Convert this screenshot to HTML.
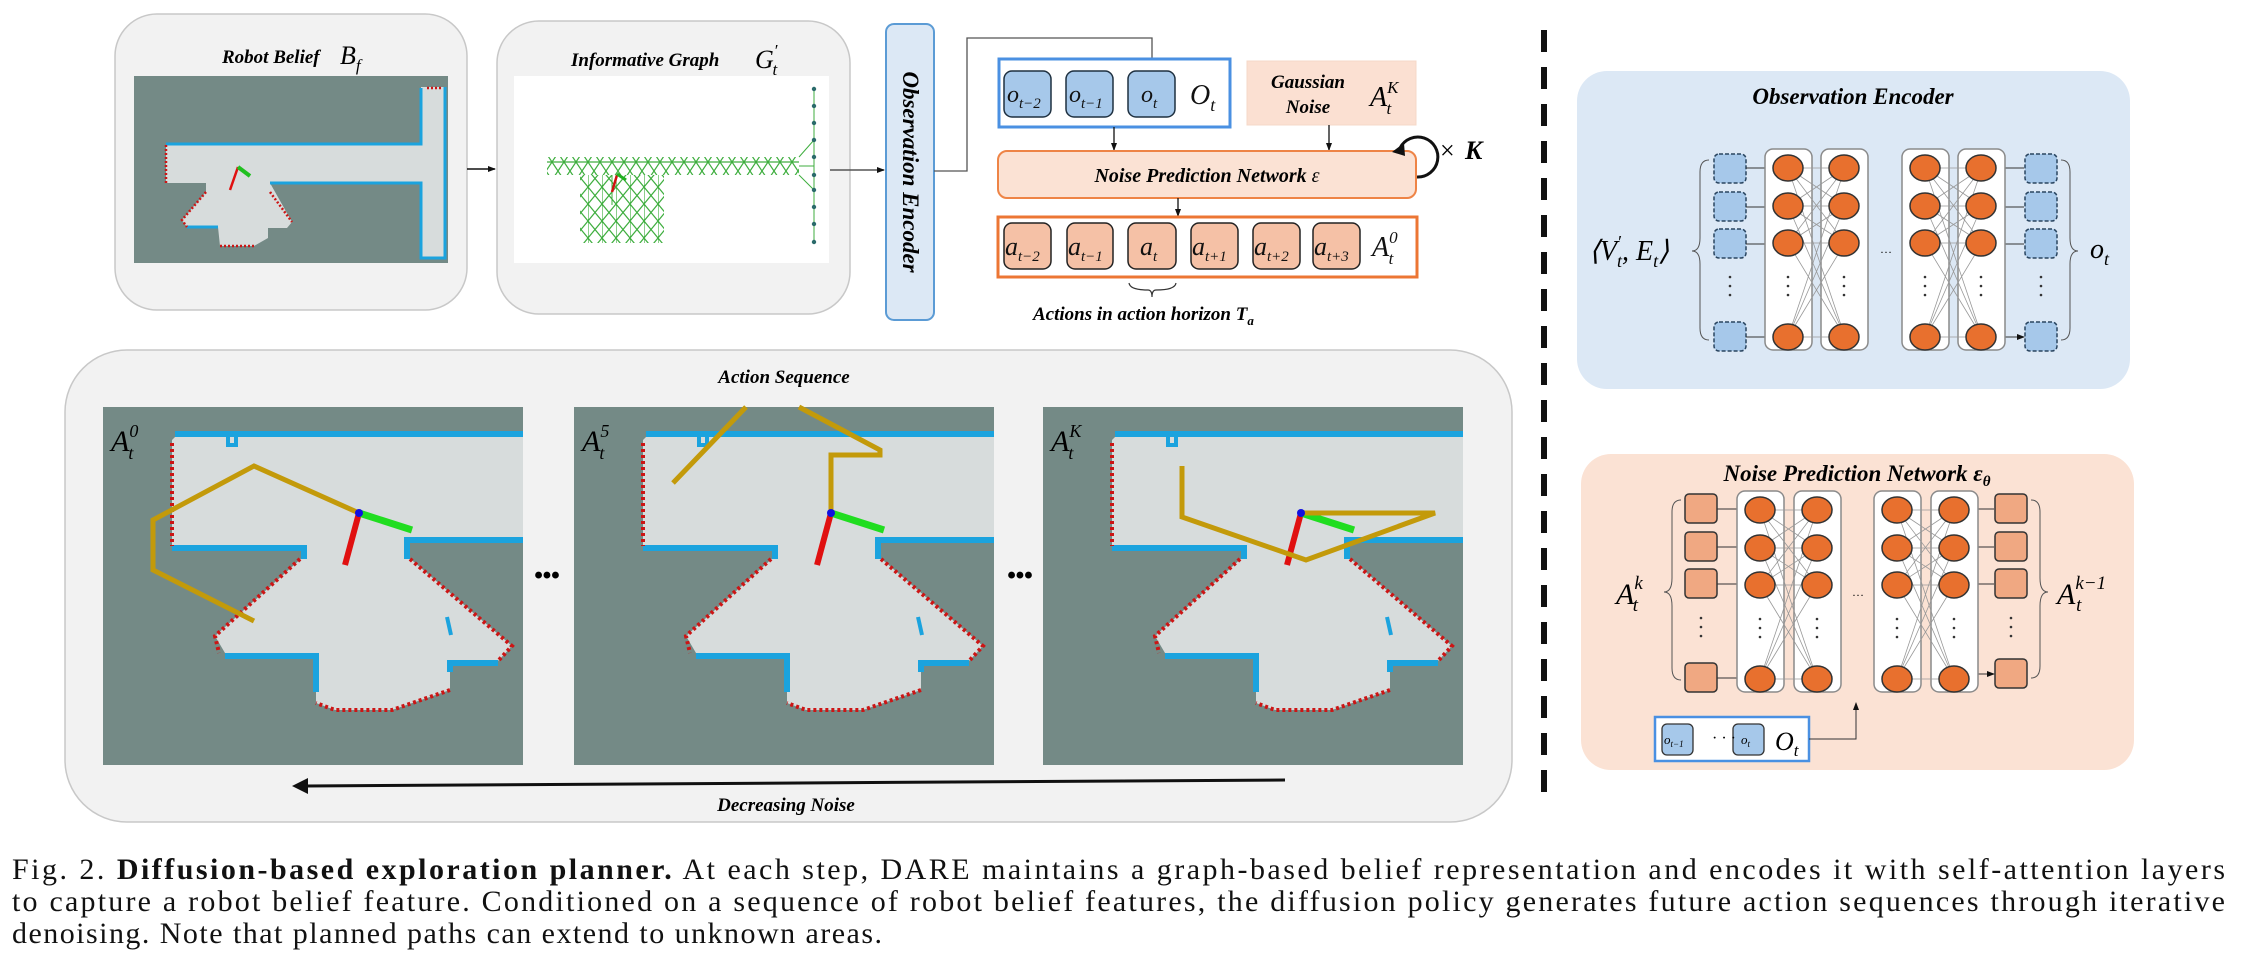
<!DOCTYPE html>
<html><head><meta charset="utf-8"><style>
html,body{margin:0;padding:0;background:#fff;}
svg{display:block;}
.t{font-family:"Liberation Serif",serif;font-style:italic;font-weight:bold;}
.m{font-family:"Liberation Serif",serif;font-style:italic;}
</style></head><body>
<svg width="2246" height="968" viewBox="0 0 2246 968" xmlns="http://www.w3.org/2000/svg">
<defs>
<marker id="ar" markerWidth="8" markerHeight="8" refX="7" refY="4" orient="auto" markerUnits="userSpaceOnUse"><path d="M0,1 L8,4 L0,7 z" fill="#111"/></marker>
<pattern id="xp" width="12" height="18" patternUnits="userSpaceOnUse"><path d="M0,0 L12,18 M12,0 L0,18 M0,0 L12,0 M0,18 L12,18" stroke="#3fae3f" stroke-width="1.2"/></pattern>
<pattern id="xp2" width="14" height="17" patternUnits="userSpaceOnUse"><path d="M0,0 L14,17 M14,0 L0,17 M0,0 L0,17" stroke="#3fae3f" stroke-width="1.2"/></pattern>
<g id="colbox"><rect x="0" y="0" width="47" height="201" rx="8" fill="#fff" stroke="#8a8a8a" stroke-width="1.5"/></g>
<g id="circs" fill="#e8702e" stroke="#333" stroke-width="1.5">
<ellipse cx="23" cy="19" rx="15" ry="13"/><ellipse cx="23" cy="57" rx="15" ry="13"/><ellipse cx="23" cy="94" rx="15" ry="13"/><ellipse cx="23" cy="188" rx="15" ry="13"/>
<g fill="#333" stroke="none"><circle cx="23" cy="128" r="1.3"/><circle cx="23" cy="137" r="1.3"/><circle cx="23" cy="146" r="1.3"/></g>
</g>
<g id="cross" stroke="#999" stroke-width="0.8">
<path d="M23,19L80,19M23,19L80,57M23,19L80,94M23,19L80,188M23,57L80,19M23,57L80,57M23,57L80,94M23,57L80,188M23,94L80,19M23,94L80,57M23,94L80,94M23,94L80,188M23,188L80,19M23,188L80,57M23,188L80,94M23,188L80,188"/>
</g>
<g id="map">
<rect x="0" y="0" width="420" height="358" fill="#748a86"/>
<polygon points="72,30 420,30 420,133 304,133 304,149 409,239 395,254 347,256 347,283 289,303 232,303 213,296 213,249 122,246 112,229 201,149 201,139 69,139 69,33" fill="#d7dcdc"/>
<g stroke="#1ba3de" stroke-width="6" fill="none">
<path d="M72,27 L420,27"/><path d="M125,30 v8 h8 v-8" stroke-width="4"/>
<path d="M69,141 L201,141 L201,152"/><path d="M304,152 L304,133 L420,133"/>
<path d="M122,249 L213,249 L213,285"/><path d="M347,265 L347,256 L395,256"/>
<path d="M344,210 L348,228" stroke-width="4"/>
</g>
<g stroke="#cc1515" stroke-width="4" fill="none" stroke-dasharray="3,3">
<path d="M69,36 L69,139"/><path d="M197,152 L112,229 L116,246"/><path d="M307,152 L409,239 L395,254"/>
<path d="M347,283 L289,303 L232,303 L213,296"/>
</g>
</g>
</defs>

<rect x="115" y="14" width="352" height="296" rx="42" fill="#f2f2f2" stroke="#c8c8c8" stroke-width="1.5"/>
<text x="222" y="63" class="t" font-size="19">Robot Belief</text>
<text x="340" y="64" class="m" font-size="26">B<tspan font-size="17" dy="7">f</tspan></text>
<rect x="134" y="76" width="314" height="187" fill="#748a86"/>
<polygon points="166,145 421,145 421,87 445,87 445,258 421,258 421,183 270,183 292,222 287,228 268,228 268,238 254,246 220,246 218,227 187,227 182,220 206,192 206,183 166,183" fill="#d7dcdc"/>
<g stroke="#1ba3de" stroke-width="3" fill="none"><path d="M166,144 L421,144 L421,88"/><path d="M270,183 L421,183 L421,258 L445,258 L445,87"/><path d="M187,227 L218,227"/></g>
<g stroke="#cc1515" stroke-width="2.5" fill="none" stroke-dasharray="2,2"><path d="M166,145 L166,183"/><path d="M206,192 L182,220 L187,227"/><path d="M254,246 L220,246"/><path d="M270,192 L292,222"/><path d="M427,88 L443,88"/></g>
<line x1="238" y1="167" x2="230" y2="190" stroke="#e01010" stroke-width="2.5"/><line x1="238" y1="167" x2="250" y2="176" stroke="#20c020" stroke-width="4"/>
<line x1="467" y1="169" x2="495" y2="169" stroke="#111" stroke-width="1.5" marker-end="url(#ar)"/>

<rect x="497" y="21" width="353" height="293" rx="42" fill="#f2f2f2" stroke="#c8c8c8" stroke-width="1.5"/>
<text x="571" y="66" class="t" font-size="19">Informative Graph</text>
<text x="755" y="68" class="m" font-size="26">G<tspan font-size="17" dy="-12">′</tspan><tspan font-size="17" dx="-5" dy="19">t</tspan></text>
<rect x="514" y="76" width="315" height="187" fill="#fff"/>
<rect x="547" y="157" width="252" height="18" fill="url(#xp)"/>
<rect x="580" y="175" width="84" height="68" fill="url(#xp2)"/>
<g stroke="#3fae3f" stroke-width="1" fill="none"><path d="M799,157 L814,140 M799,175 L814,190 M799,166 L814,166 M814,89 L814,242 M612,175 L612,205"/></g>
<g fill="#2a6a6a"><circle cx="814" cy="89" r="2.2"/><circle cx="814" cy="106" r="2.2"/><circle cx="814" cy="123" r="2.2"/><circle cx="814" cy="140" r="2.2"/><circle cx="814" cy="157" r="2.2"/><circle cx="814" cy="175" r="2.2"/><circle cx="814" cy="190" r="2.2"/><circle cx="814" cy="207" r="2.2"/><circle cx="814" cy="224" r="2.2"/><circle cx="814" cy="242" r="2.2"/></g>
<line x1="617" y1="175" x2="612" y2="192" stroke="#d01010" stroke-width="2.5"/><line x1="617" y1="174" x2="626" y2="180" stroke="#20b020" stroke-width="3"/>
<line x1="830" y1="170" x2="884" y2="170" stroke="#555" stroke-width="1.5" marker-end="url(#ar)"/>

<rect x="886" y="24" width="48" height="296" rx="8" fill="#dce8f5" stroke="#5b9bd5" stroke-width="2"/>
<text transform="translate(903,172) rotate(90)" text-anchor="middle" class="t" font-size="23">Observation Encoder</text>
<path d="M934,171 L967,171 L967,38 L1152,38 L1152,69" stroke="#555" stroke-width="1.3" fill="none" marker-end="url(#ar)"/>

<rect x="999" y="59" width="231" height="68" fill="#fff" stroke="#4a90e2" stroke-width="3"/>
<g fill="#a6c8ea" stroke="#1e3040" stroke-width="1.5">
<rect x="1004" y="71" width="47" height="46" rx="8"/><rect x="1066" y="71" width="47" height="46" rx="8"/><rect x="1128" y="71" width="47" height="46" rx="8"/></g>
<g class="m" fill="#111">
<text x="1007" y="102" font-size="24">o<tspan font-size="15" dy="6">t−2</tspan></text>
<text x="1069" y="102" font-size="24">o<tspan font-size="15" dy="6">t−1</tspan></text>
<text x="1141" y="102" font-size="24">o<tspan font-size="15" dy="6">t</tspan></text>
<text x="1190" y="104" font-size="28">O<tspan font-size="18" dy="7">t</tspan></text>
</g>
<rect x="1247" y="61" width="169" height="64" fill="#fbe0d2" stroke="#f6d8c8" stroke-width="1"/>
<text x="1308" y="88" text-anchor="middle" class="t" font-size="19">Gaussian</text>
<text x="1308" y="113" text-anchor="middle" class="t" font-size="19">Noise</text>
<text x="1370" y="106" class="m" font-size="28">A<tspan font-size="17" dy="-13">K</tspan><tspan font-size="17" dx="-12" dy="21">t</tspan></text>
<line x1="1114" y1="127" x2="1114" y2="150" stroke="#111" stroke-width="1.3" marker-end="url(#ar)"/>
<line x1="1329" y1="125" x2="1329" y2="150" stroke="#111" stroke-width="1.3" marker-end="url(#ar)"/>
<rect x="998" y="151" width="418" height="47" rx="9" fill="#fbe2d4" stroke="#ee8446" stroke-width="2"/>
<text x="1207" y="182" text-anchor="middle" class="t" font-size="20">Noise Prediction Network <tspan class="m" font-weight="normal">ε</tspan></text>
<path d="M1417,177 A20,20 0 1 0 1400,148" stroke="#111" stroke-width="3" fill="none"/>
<path d="M1392,152 L1404,143 L1405,156 z" fill="#111"/>
<text x="1440" y="159" font-family="Liberation Serif,serif" font-size="26">×</text>
<text x="1465" y="159" class="t" font-size="26">K</text>
<line x1="1178" y1="198" x2="1178" y2="216" stroke="#111" stroke-width="1.3" marker-end="url(#ar)"/>
<rect x="998" y="217" width="419" height="60" fill="#fff" stroke="#ec7634" stroke-width="3"/>
<g fill="#f5c1a6" stroke="#222" stroke-width="1.5">
<rect x="1004" y="223" width="47" height="46" rx="8"/><rect x="1067" y="223" width="46" height="46" rx="8"/><rect x="1128" y="223" width="48" height="46" rx="8"/><rect x="1191" y="223" width="47" height="46" rx="8"/><rect x="1253" y="223" width="47" height="46" rx="8"/><rect x="1313" y="223" width="47" height="46" rx="8"/></g>
<g class="m" fill="#111">
<text x="1005" y="255" font-size="26">a<tspan font-size="15" dy="6">t−2</tspan></text>
<text x="1068" y="255" font-size="26">a<tspan font-size="15" dy="6">t−1</tspan></text>
<text x="1140" y="255" font-size="26">a<tspan font-size="15" dy="6">t</tspan></text>
<text x="1192" y="255" font-size="26">a<tspan font-size="15" dy="6">t+1</tspan></text>
<text x="1254" y="255" font-size="26">a<tspan font-size="15" dy="6">t+2</tspan></text>
<text x="1314" y="255" font-size="26">a<tspan font-size="15" dy="6">t+3</tspan></text>
<text x="1372" y="256" font-size="28">A<tspan font-size="17" dy="-13">0</tspan><tspan font-size="17" dx="-9" dy="21">t</tspan></text>
</g>
<path d="M1129,283 Q1130,290 1148,290 Q1152,290 1152,297 Q1152,290 1156,290 Q1175,290 1176,283" stroke="#333" stroke-width="1.2" fill="none"/>
<text x="1033" y="320" class="t" font-size="19">Actions in action horizon <tspan class="m">T</tspan><tspan font-size="13" dy="5">a</tspan></text>

<rect x="65" y="350" width="1447" height="472" rx="62" fill="#f2f2f2" stroke="#c8c8c8" stroke-width="1.5"/>
<text x="784" y="383" text-anchor="middle" class="t" font-size="19">Action Sequence</text>

<g transform="translate(103,407)"><use href="#map"/>
<path d="M256,106 L151,59 L50,113 L50,163 L151,214" stroke="#c39a0a" stroke-width="5" fill="none"/>
<line x1="256" y1="106" x2="242" y2="158" stroke="#e01010" stroke-width="6"/><line x1="256" y1="106" x2="309" y2="123" stroke="#20dd20" stroke-width="7"/><circle cx="256" cy="106" r="4" fill="#1010e0"/>
<text x="8" y="44" class="m" font-size="30">A<tspan font-size="18" dy="-14">0</tspan><tspan font-size="18" dx="-10" dy="22">t</tspan></text></g>

<g transform="translate(574,407)"><use href="#map"/>
<path d="M172,0 L99,76 M225,0 L306,43 L306,48 L257,48 L257,105" stroke="#c39a0a" stroke-width="5" fill="none"/>
<line x1="257" y1="106" x2="243" y2="158" stroke="#e01010" stroke-width="6"/><line x1="257" y1="106" x2="310" y2="123" stroke="#20dd20" stroke-width="7"/><circle cx="257" cy="106" r="4" fill="#1010e0"/>
<text x="8" y="44" class="m" font-size="30">A<tspan font-size="18" dy="-14">5</tspan><tspan font-size="18" dx="-10" dy="22">t</tspan></text></g>

<g transform="translate(1043,407)"><use href="#map"/>
<line x1="258" y1="106" x2="244" y2="158" stroke="#e01010" stroke-width="6"/><line x1="258" y1="106" x2="311" y2="123" stroke="#20dd20" stroke-width="7"/>
<path d="M139,59 L139,110 L263,153 L392,106 L263,106 L258,106" stroke="#c39a0a" stroke-width="5" fill="none"/><circle cx="258" cy="106" r="4" fill="#1010e0"/>
<text x="8" y="44" class="m" font-size="30">A<tspan font-size="18" dy="-14">K</tspan><tspan font-size="18" dx="-13" dy="22">t</tspan></text></g>

<text x="547" y="583" text-anchor="middle" font-family="Liberation Sans,sans-serif" font-weight="bold" font-size="24">•••</text>
<text x="1020" y="583" text-anchor="middle" font-family="Liberation Sans,sans-serif" font-weight="bold" font-size="24">•••</text>
<line x1="1285" y1="780" x2="306" y2="786" stroke="#111" stroke-width="3"/>
<path d="M292,786 L308,778 L308,794 z" fill="#111"/>
<text x="786" y="811" text-anchor="middle" class="t" font-size="19">Decreasing Noise</text>

<line x1="1544" y1="30" x2="1544" y2="806" stroke="#111" stroke-width="6" stroke-dasharray="22,15"/>

<rect x="1577" y="71" width="553" height="318" rx="30" fill="#dce8f5"/>
<text x="1853" y="104" text-anchor="middle" class="t" font-size="23">Observation Encoder</text>
<g fill="#a6c8ea" stroke="#2a4560" stroke-width="1.5" stroke-dasharray="4,2">
<rect x="1714" y="154" width="32" height="29" rx="5"/><rect x="1714" y="192" width="32" height="29" rx="5"/><rect x="1714" y="229" width="32" height="29" rx="5"/><rect x="1714" y="322" width="32" height="29" rx="5"/>
<rect x="2025" y="154" width="32" height="29" rx="5"/><rect x="2025" y="192" width="32" height="29" rx="5"/><rect x="2025" y="229" width="32" height="29" rx="5"/><rect x="2025" y="322" width="32" height="29" rx="5"/></g>
<g fill="#333"><circle cx="1730" cy="277" r="1.3"/><circle cx="1730" cy="286" r="1.3"/><circle cx="1730" cy="295" r="1.3"/><circle cx="2041" cy="277" r="1.3"/><circle cx="2041" cy="286" r="1.3"/><circle cx="2041" cy="295" r="1.3"/></g>
<g stroke="#333" stroke-width="1"><path d="M1746,168H1765M1746,207H1765M1746,244H1765M1746,337H1765"/></g>
<g stroke="#333" stroke-width="1" marker-end="url(#ar)"><path d="M2005,168H2024M2005,207H2024M2005,244H2024M2005,337H2024"/></g>
<use href="#colbox" x="1765" y="149"/><use href="#colbox" x="1821" y="149"/><use href="#colbox" x="1902" y="149"/><use href="#colbox" x="1958" y="149"/>
<use href="#cross" x="1765" y="149"/><use href="#cross" x="1902" y="149"/>
<use href="#circs" x="1765" y="149"/><use href="#circs" x="1821" y="149"/><use href="#circs" x="1902" y="149"/><use href="#circs" x="1958" y="149"/>
<text x="1886" y="253" text-anchor="middle" font-size="12" font-family="Liberation Serif,serif">…</text>
<path d="M1709,160 Q1700,160 1700,172 L1700,238 Q1700,251 1692,251 Q1700,251 1700,264 L1700,328 Q1700,340 1709,340" stroke="#555" stroke-width="1" fill="none"/>
<path d="M2061,160 Q2070,160 2070,172 L2070,238 Q2070,251 2078,251 Q2070,251 2070,264 L2070,328 Q2070,340 2061,340" stroke="#555" stroke-width="1" fill="none"/>
<text x="1589" y="260" class="m" font-size="28">⟨V<tspan font-size="18" dy="-12">′</tspan><tspan font-size="18" dx="-4" dy="19">t</tspan><tspan dy="-7">, E</tspan><tspan font-size="18" dy="7">t</tspan><tspan dy="-7">⟩</tspan></text>
<text x="2090" y="258" class="m" font-size="28">o<tspan font-size="18" dy="7">t</tspan></text>

<rect x="1581" y="454" width="553" height="316" rx="30" fill="#fbe2d4"/>
<text x="1857" y="481" text-anchor="middle" class="t" font-size="23">Noise Prediction Network <tspan class="m">ε</tspan><tspan font-size="15" dy="5">θ</tspan></text>
<g fill="#f0a882" stroke="#333" stroke-width="1.5">
<rect x="1685" y="494" width="32" height="29" rx="4"/><rect x="1685" y="532" width="32" height="29" rx="4"/><rect x="1685" y="569" width="32" height="29" rx="4"/><rect x="1685" y="663" width="32" height="29" rx="4"/>
<rect x="1995" y="494" width="32" height="29" rx="4"/><rect x="1995" y="532" width="32" height="29" rx="4"/><rect x="1995" y="569" width="32" height="29" rx="4"/><rect x="1995" y="659" width="32" height="29" rx="4"/></g>
<g fill="#333"><circle cx="1701" cy="618" r="1.3"/><circle cx="1701" cy="627" r="1.3"/><circle cx="1701" cy="636" r="1.3"/><circle cx="2011" cy="618" r="1.3"/><circle cx="2011" cy="627" r="1.3"/><circle cx="2011" cy="636" r="1.3"/></g>
<g stroke="#333" stroke-width="1"><path d="M1717,509H1737M1717,547H1737M1717,584H1737M1717,678H1737"/></g>
<g stroke="#333" stroke-width="1" marker-end="url(#ar)"><path d="M1977,509H1994M1977,547H1994M1977,584H1994M1977,674H1994"/></g>
<use href="#colbox" x="1737" y="491"/><use href="#colbox" x="1794" y="491"/><use href="#colbox" x="1874" y="491"/><use href="#colbox" x="1931" y="491"/>
<use href="#cross" x="1737" y="491"/><use href="#cross" x="1874" y="491"/>
<use href="#circs" x="1737" y="491"/><use href="#circs" x="1794" y="491"/><use href="#circs" x="1874" y="491"/><use href="#circs" x="1931" y="491"/>
<text x="1858" y="596" text-anchor="middle" font-size="12" font-family="Liberation Serif,serif">…</text>
<path d="M1681,500 Q1672,500 1672,512 L1672,578 Q1672,592 1664,592 Q1672,592 1672,606 L1672,668 Q1672,680 1681,680" stroke="#555" stroke-width="1" fill="none"/>
<path d="M2031,500 Q2040,500 2040,512 L2040,578 Q2040,592 2048,592 Q2040,592 2040,606 L2040,666 Q2040,678 2031,678" stroke="#555" stroke-width="1" fill="none"/>
<text x="1616" y="604" class="m" font-size="30">A<tspan font-size="19" dy="-15">k</tspan><tspan font-size="19" dx="-10" dy="22">t</tspan></text>
<text x="2057" y="604" class="m" font-size="30">A<tspan font-size="19" dy="-15">k−1</tspan><tspan font-size="19" dx="-30" dy="22">t</tspan></text>
<rect x="1655" y="717" width="154" height="44" fill="#fff" stroke="#4a90e2" stroke-width="2.5"/>
<rect x="1662" y="724" width="31" height="31" rx="5" fill="#a6c8ea" stroke="#333" stroke-width="1.3"/>
<rect x="1733" y="724" width="31" height="31" rx="5" fill="#a6c8ea" stroke="#333" stroke-width="1.3"/>
<text x="1664" y="744" class="m" font-size="13">o<tspan font-size="9" dy="3">t−1</tspan></text>
<text x="1741" y="744" class="m" font-size="13">o<tspan font-size="9" dy="3">t</tspan></text>
<text x="1712" y="743" font-family="Liberation Serif,serif" font-size="16">· · ·</text>
<text x="1775" y="750" class="m" font-size="26">O<tspan font-size="17" dy="6">t</tspan></text>
<path d="M1809,739 L1856,739 L1856,703" stroke="#333" stroke-width="1" fill="none" marker-end="url(#ar)"/>

<g font-family="Liberation Serif,serif" font-size="30" fill="#111">
<text x="12" y="879" textLength="2213" lengthAdjust="spacing">Fig. 2.    <tspan font-weight="bold">Diffusion-based exploration planner.</tspan> At each step, DARE maintains a graph-based belief representation and encodes it with self-attention layers</text>
<text x="12" y="911" textLength="2213" lengthAdjust="spacing">to capture a robot belief feature. Conditioned on a sequence of robot belief features, the diffusion policy generates future action sequences through iterative</text>
<text x="12" y="943" textLength="870" lengthAdjust="spacing">denoising. Note that planned paths can extend to unknown areas.</text>
</g>
</svg>
</body></html>
